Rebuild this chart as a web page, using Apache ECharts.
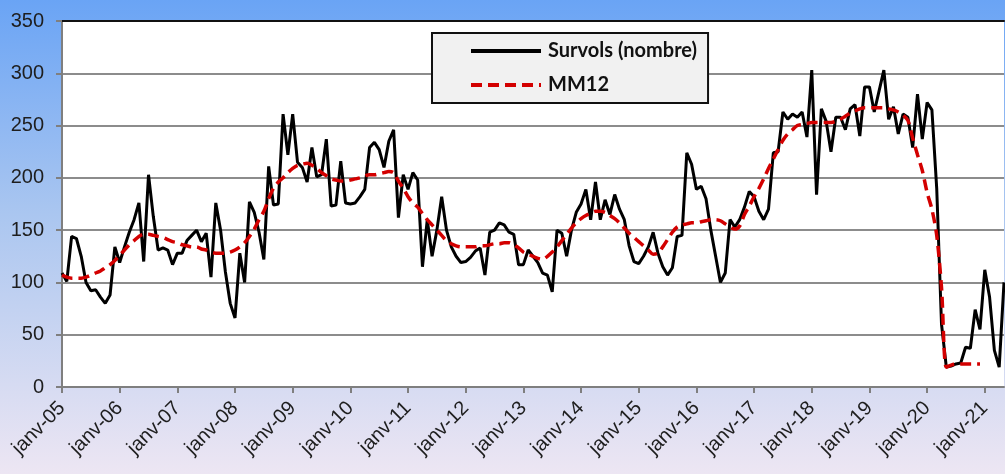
<!DOCTYPE html>
<html>
<head>
<meta charset="utf-8">
<script src="https://cdn.jsdelivr.net/npm/echarts@6/dist/echarts.min.js"></script>
<style>html,body{margin:0;padding:0;}#c{width:1005px;height:474px;}</style>
</head>
<body>
<div id="c"></div>
<script>
// Month names (French abbreviations) and years covered
const monthNames = ['janv','févr','mars','avr','mai','juin','juil','août','sept','oct','nov','déc'];
const startYear = 2005;
const nPoints = 197; // Jan 2005 .. May 2021

// Y-axis ticks
const yTicks = [0, 50, 100, 150, 200, 250, 300, 350];

// Survols (nombre) – monthly values, 2005 → 2021
const survols2005_2008 = [109,101,144,142,125,100,92,93,86,80,88,134,
  119,134,148,160,176,120,203,163,131,133,131,117,
  128,128,140,145,150,139,147,105,176,150,110,80,
  66,128,100,177,167,148,122,211,174,175,261,222];
const survols2009_2012 = [261,215,210,196,229,201,203,237,173,174,216,176,
  175,176,182,189,229,234,227,210,235,246,162,203,
  189,205,198,115,160,125,150,182,150,134,125,119,
  120,124,130,133,107,148,150,157,155,148,146,117];
const survols2013_2016 = [117,131,125,119,109,107,91,150,147,125,150,167,
  175,189,160,196,160,179,165,184,170,160,135,120,
  118,125,134,148,128,115,107,114,144,145,224,213,
  189,192,180,150,125,100,109,160,153,160,172,187];
const survols2017_2021 = [182,168,160,170,224,225,263,256,261,258,263,239,
  303,184,266,254,225,258,258,246,266,270,240,287,
  287,263,283,303,256,268,242,261,258,229,280,237,
  272,265,190,60,19,20,22,23,38,37,74,55,
  112,86,35,19,100];

// MM12 (moyenne mobile 12 mois), ends Dec 2020
const mm12_2005_2008 = [107,105,104,104,104,105,107,109,111,114,117,121,
  126,131,136,140,144,146,146,145,144,143,141,139,
  138,136,135,134,134,132,131,129,128,128,128,129,
  131,134,138,144,151,160,168,180,190,196,200,205];
const mm12_2009_2012 = [209,212,213,214,212,209,205,202,199,198,197,197,
  198,199,200,202,203,203,204,205,206,205,197,190,
  182,176,172,166,160,155,150,145,140,137,135,134,
  134,134,134,135,135,136,137,137,138,138,136,133];
const mm12_2013_2016 = [129,127,125,123,122,125,129,134,140,146,152,157,
  161,164,166,168,168,167,164,161,157,152,147,143,
  139,135,131,127,128,134,141,148,153,155,156,157,
  157,158,159,160,160,159,156,153,151,154,165,173];
const mm12_2017_2020 = [182,190,199,209,218,227,236,242,246,250,251,252,
  253,253,253,253,253,254,256,259,262,264,266,267,
  267,267,267,267,266,265,263,260,255,238,222,207,
  186,170,145,95,19,21,22,22,22,22,22,22];

const categories = [];
for (let i = 0; i < nPoints; i++) {
  const y = startYear + Math.floor(i / 12);
  categories.push(monthNames[i % 12] + '-' + String(y).slice(2));
}
const survols = [].concat(survols2005_2008, survols2009_2012, survols2013_2016, survols2017_2021);
const mm12 = [].concat(mm12_2005_2008, mm12_2009_2012, mm12_2013_2016, mm12_2017_2020);

const chart = echarts.init(document.getElementById('c'), null, {renderer: 'canvas'});
const font = 'Liberation Sans, Arial, sans-serif';
chart.setOption({
  animation: false,
  backgroundColor: {
    type: 'linear', x: 0, y: 0, x2: 0, y2: 1,
    colorStops: [
      {offset: 0, color: '#6aa4f5'},
      {offset: 0.45, color: '#aac6f0'},
      {offset: 1, color: '#ede6f3'}
    ]
  },
  grid: {left: 62, right: 1, top: 21, bottom: 87, show: true, backgroundColor: '#ffffff', borderWidth: 0},
  legend: {
    orient: 'vertical',
    left: 432, top: 33,
    padding: [8, 11, 8, 37],
    itemWidth: 70, itemHeight: 14, itemGap: 14,
    backgroundColor: '#f1f1f1',
    borderColor: '#111', borderWidth: 2,
    itemStyle: {opacity: 0},
    lineStyle: {width: 4},
    textStyle: {fontFamily: 'Lato, sans-serif', fontWeight: 'bold', fontSize: 20, color: '#111', padding: [0, 0, 0, 2]},
    data: ['Survols (nombre)', 'MM12']
  },
  xAxis: [{
    type: 'category',
    data: categories,
    boundaryGap: false,
    axisLine: {lineStyle: {color: '#7f7f7f', width: 2}},
    axisTick: {interval: 11, length: 6, lineStyle: {color: '#7f7f7f', width: 2}},
    axisLabel: {interval: 11, rotate: 45, fontFamily: font, fontSize: 20, color: '#1e1e1e', margin: 18},
    splitLine: {show: false}
  }, {
    type: 'category',
    position: 'top',
    data: categories,
    boundaryGap: false,
    axisLine: {lineStyle: {color: '#111', width: 2}},
    axisTick: {show: false},
    axisLabel: {show: false}
  }],
  yAxis: {
    type: 'value',
    min: yTicks[0], max: yTicks[yTicks.length - 1], interval: 50,
    axisLine: {show: true, lineStyle: {color: '#7f7f7f', width: 2}},
    axisTick: {show: true, length: 6, lineStyle: {color: '#7f7f7f', width: 2}},
    axisLabel: {fontFamily: font, fontSize: 20, color: '#1e1e1e', margin: 18},
    splitLine: {lineStyle: {color: '#8c8c8c', width: 2}}
  },
  series: [{
    name: 'Survols (nombre)',
    type: 'line',
    data: survols,
    symbol: 'none',
    lineStyle: {color: '#000', width: 3},
    itemStyle: {color: '#000'},
    z: 3
  }, {
    name: 'MM12',
    type: 'line',
    data: mm12,
    symbol: 'none',
    smooth: 0.3,
    lineStyle: {color: '#d30000', width: 3.5, type: [11, 6]},
    itemStyle: {color: '#d30000'},
    z: 4
  }]
});
</script>
</body>
</html>
